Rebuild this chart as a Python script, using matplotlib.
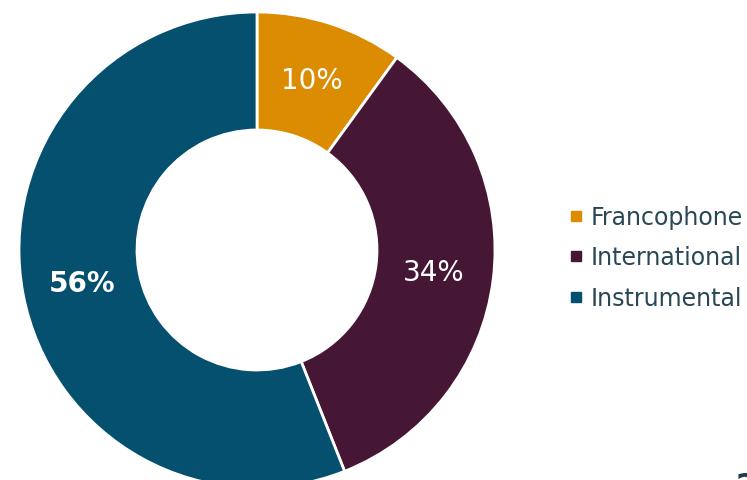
import matplotlib.pyplot as plt
from matplotlib.lines import Line2D

# données
categories = ["Francophone", "International", "Instrumental"]
valeurs = [10, 34, 56]
couleurs = ["#DB8C00", "#461735", "#04506E"]

fig = plt.figure(figsize=(7.47, 4.81), dpi=100)
ax = fig.add_axes([0, 0, 1, 1])

wedges, _, autotexts = ax.pie(
    valeurs,
    colors=couleurs,
    startangle=90,
    counterclock=False,
    center=(257, 230),
    radius=238,
    autopct="%1.0f%%",
    pctdistance=0.75,
    wedgeprops=dict(width=118, edgecolor="white", linewidth=2),
    textprops=dict(color="white", fontsize=20, family="DejaVu Sans"),
)
autotexts[2].set_fontweight("bold")

ax.set_xlim(0, 747)
ax.set_ylim(0, 481)
ax.set_aspect("equal")
ax.axis("off")

# légende
poignees = [
    Line2D([], [], marker="s", linestyle="none", markersize=7, color=c)
    for c in couleurs
]
leg = fig.legend(
    poignees, categories,
    loc="center left", bbox_to_anchor=(0.735, 0.463),
    frameon=False, fontsize=17, handlelength=0.5, handletextpad=0.35,
    labelspacing=0.7,
)
for t in leg.get_texts():
    t.set_color("#2A4756")

# numéro de diapo coupé
fig.text(0.985, -0.03, "2", fontsize=22, color="#1F3A48", fontweight="bold")

fig.savefig("out.png", dpi=100)
